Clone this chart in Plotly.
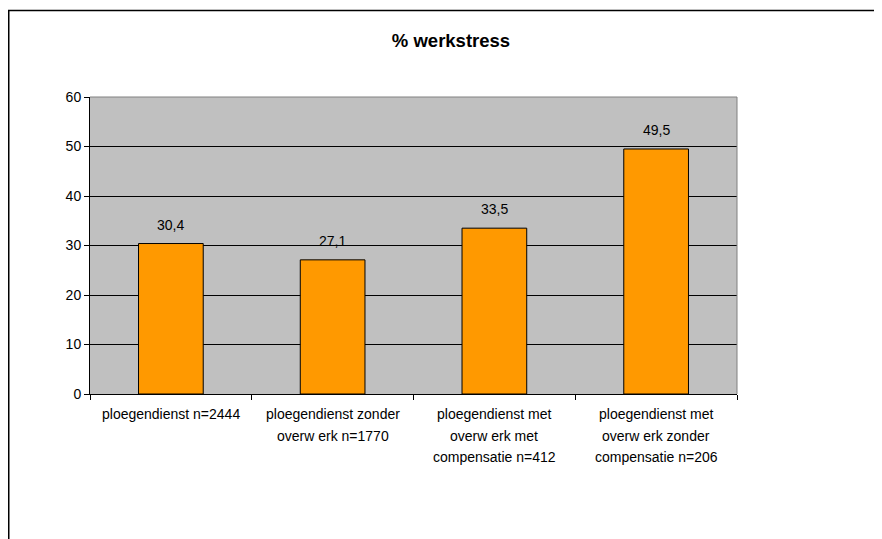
import plotly.graph_objects as go

categories = [
    "ploegendienst n=2444",
    "ploegendienst zonder<br>overw erk n=1770",
    "ploegendienst met<br>overw erk met<br>compensatie n=412",
    "ploegendienst met<br>overw erk zonder<br>compensatie n=206",
]
values = [30.4, 27.1, 33.5, 49.5]
value_labels = ["30,4", "27,1", "33,5", "49,5"]
y_ticks = [0, 10, 20, 30, 40, 50, 60]

font = "Liberation Sans, Arial, sans-serif"

# figure is placed by the browser 8px in from page top-left (body margin)
W, H = 874, 531
ML, MR, MT, MB = 82, 145, 89, 145
PW, PH = W - ML - MR, H - MT - MB


def px_x(fx):
    return (fx - ML) / PW


def px_y(fy):
    return (H - MB - fy) / PH


fig = go.Figure()
fig.add_trace(go.Bar(
    x=categories, y=values,
    marker=dict(color="#FF9900", line=dict(color="black", width=1)),
    width=0.4,
    hoverinfo="skip",
))

for c, v, t in zip(categories, values, value_labels):
    fig.add_annotation(x=c, y=v, text=t, showarrow=False, yanchor="middle",
                       yshift=19, font=dict(family=font, size=14, color="black"))

# category labels, one line each so the line spacing matches
for c in categories:
    for i, line in enumerate(c.split("<br>")):
        fig.add_annotation(x=c, y=0, yref="y", text=line, showarrow=False,
                           yanchor="middle", xanchor="center",
                           yshift=-(20 + 21.5 * i),
                           font=dict(family=font, size=14, color="black"))

fig.update_layout(
    width=W, height=H,
    margin=dict(l=ML, r=MR, t=MT, b=MB),
    paper_bgcolor="white",
    plot_bgcolor="#C0C0C0",
    showlegend=False,
    font=dict(family=font, size=14, color="black"),
    title=dict(text="<b>% werkstress</b>", x=443 / W, xanchor="center",
               y=1 - 33 / H, yanchor="middle",
               font=dict(family=font, size=18.5, color="black")),
    xaxis=dict(
        tickson="boundaries", ticks="outside", ticklen=5, tickcolor="black",
        showline=True, linecolor="black", linewidth=1,
        showgrid=False, showticklabels=False,
    ),
    yaxis=dict(
        range=[0, 60], tickvals=y_ticks, ticktext=[str(v) for v in y_ticks],
        ticks="outside", ticklen=5, tickcolor="black",
        showline=True, linecolor="black", linewidth=1,
        showgrid=True, gridcolor="black", gridwidth=1,
        zeroline=False,
        tickfont=dict(family=font, size=14, color="black"),
    ),
    shapes=[
        # plot area grey frame (top and right)
        dict(type="line", xref="paper", yref="paper", x0=0, x1=1, y0=1, y1=1,
             line=dict(color="#808080", width=1)),
        dict(type="line", xref="paper", yref="paper", x0=1, x1=1, y0=0, y1=1,
             line=dict(color="#808080", width=1)),
        # chart outer border (left and top)
        dict(type="line", xref="paper", yref="paper",
             x0=px_x(0.75), x1=px_x(0.75), y0=px_y(2), y1=px_y(H + 20),
             line=dict(color="black", width=1.5)),
        dict(type="line", xref="paper", yref="paper",
             x0=px_x(0), x1=px_x(W + 20), y0=px_y(2.5), y1=px_y(2.5),
             line=dict(color="black", width=1.5)),
    ],
)

fig.write_html("out.html")
